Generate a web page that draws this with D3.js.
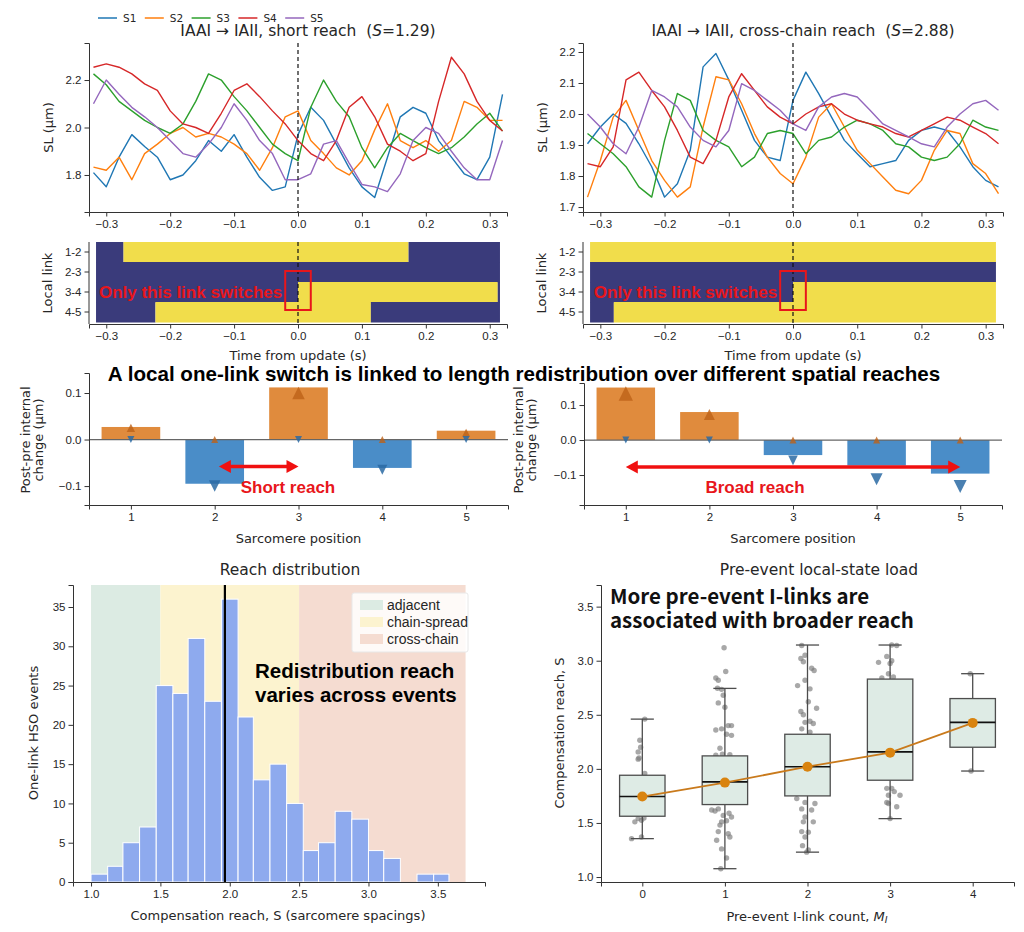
<!DOCTYPE html>
<html>
<head>
<meta charset="utf-8">
<script src="https://cdn.jsdelivr.net/npm/d3@7"></script>
<style>
  body { margin: 0; background: #fff; }
  svg { display: block; font-family: "DejaVu Sans", sans-serif; }
</style>
</head>
<body>
<svg id="fig" width="1024" height="932"></svg>
<script>
// ---------- data ----------
const seriesNames = ["S1", "S2", "S3", "S4", "S5"];
const timeS = [-0.32,-0.30,-0.28,-0.26,-0.24,-0.22,-0.20,-0.18,-0.16,-0.14,-0.12,-0.10,-0.08,-0.06,-0.04,-0.02,
  0.00,0.02,0.04,0.06,0.08,0.10,0.12,0.14,0.16,0.18,0.20,0.22,0.24,0.26,0.28,0.30,0.32];

// short reach event (S = 1.29), sarcomere lengths in µm
const shortS1 = [1.81,1.75,1.875,1.97,1.92,1.875,1.78,1.80,1.86,1.945,1.90,1.97,1.875,1.79,1.735,1.75,1.97,2.085,2.03,1.93,1.83,1.75,1.705,1.875,2.045,2.085,2.06,1.945,1.875,1.805,1.78,1.875,2.14];
const shortS2 = [1.833,1.82,1.875,1.78,1.89,1.93,1.975,2.0,1.96,1.975,1.96,1.93,1.89,1.82,1.915,2.045,2.07,1.945,1.89,1.83,1.80,1.86,1.99,2.10,1.945,1.915,1.945,1.90,1.945,2.11,2.085,2.03,2.03];
const shortS3 = [2.226,2.18,2.11,2.07,2.03,2.0,1.975,2.015,2.11,2.226,2.20,2.13,2.07,2.0,1.93,1.89,1.86,2.085,2.20,2.11,2.045,1.915,1.83,1.915,1.975,1.945,1.915,1.89,1.915,1.96,2.015,2.06,1.985];
const shortS4 = [2.254,2.268,2.254,2.226,2.184,2.156,2.07,2.015,2.0,1.975,2.06,2.156,2.184,2.13,2.07,2.015,1.945,1.89,1.86,1.945,2.085,2.13,2.045,1.93,1.90,1.86,1.89,2.11,2.296,2.226,2.11,2.03,1.985];
const shortS5 = [2.10,2.20,2.14,2.085,2.045,2.0,1.945,1.89,1.875,1.93,2.0,2.10,2.03,1.945,1.89,1.78,1.78,1.805,1.93,1.945,1.85,1.76,1.75,1.73,1.805,1.945,2.0,1.975,1.90,1.83,1.78,1.78,1.945];

// cross-chain event (S = 2.88)
const crossS1 = [1.904,1.958,2.0,1.97,1.904,1.83,1.732,1.775,1.883,2.152,2.195,2.11,2.012,1.915,1.861,1.85,2.044,2.135,2.066,1.99,1.915,1.872,1.83,1.84,1.85,1.915,1.947,1.958,1.947,1.894,1.83,1.786,1.765];
const crossS2 = [1.732,1.85,1.99,2.044,1.947,1.85,1.786,1.732,1.765,1.958,2.12,2.11,2.033,1.937,1.861,1.808,1.775,1.861,1.99,2.033,1.958,1.883,1.84,1.797,1.754,1.743,1.786,1.883,1.947,1.937,1.84,1.808,1.743];
const crossS3 = [1.937,1.904,1.872,1.83,1.765,1.732,1.915,2.066,2.044,1.947,1.915,1.894,1.83,1.861,1.937,1.947,1.937,1.872,1.915,1.926,1.958,1.98,1.968,1.947,1.904,1.894,1.861,1.85,1.861,1.904,1.98,1.958,1.947];
const crossS4 = [1.84,1.83,1.894,2.11,2.135,2.076,2.023,1.947,1.861,1.84,1.915,2.055,2.13,2.076,2.023,1.99,1.968,2.0,2.023,2.033,2.0,1.98,1.968,1.958,1.937,1.926,1.947,1.968,1.99,1.98,1.958,1.937,1.904];
const crossS5 = [2.0,1.958,1.904,1.872,1.958,2.076,2.055,2.023,1.958,1.915,1.894,1.947,2.098,2.076,2.044,2.012,1.968,1.947,2.023,2.055,2.066,2.055,2.012,1.968,1.947,1.926,1.904,1.894,1.958,2.0,2.033,2.044,2.012];

// local link states: [from, to, state] (1 = yellow / engaged)
const linkNames = ["1-2", "2-3", "3-4", "4-5"];
const shortLinkStates = [
  [[-0.316, -0.273, 0], [-0.273, 0.173, 1], [0.173, 0.316, 0]],
  [[-0.316, 0.316, 0]],
  [[-0.316, 0, 0], [0, 0.3125, 1], [0.3125, 0.316, 0]],
  [[-0.316, -0.223, 0], [-0.223, 0.114, 1], [0.114, 0.316, 0]]
];
const crossLinkStates = [
  [[-0.316, 0.316, 1]],
  [[-0.316, 0.316, 0]],
  [[-0.316, 0, 0], [0, 0.316, 1]],
  [[-0.316, -0.279, 0], [-0.279, 0.316, 1]]
];

// post-pre internal change (µm)
const sarcPos = [1, 2, 3, 4, 5];
const shortBars = [0.027, -0.095, 0.112, -0.061, 0.019];
const shortUp = [0.025, 0, 0.1, 0, 0.015];
const shortDown = [0, -0.1, 0, -0.065, 0];
const crossBars = [0.15, 0.08, -0.043, -0.073, -0.096];
const crossUp = [0.133, 0.073, 0, 0, 0];
const crossDown = [0, 0, -0.058, -0.112, -0.133];

// reach histogram
const histEdges = [1.00,1.12,1.23,1.35,1.47,1.59,1.70,1.82,1.94,2.06,2.17,2.29,2.41,2.53,2.64,2.76,2.88,3.00,3.11,3.23,3.35,3.47,3.58];
const histCounts = [1,2,5,7,25,24,31,23,36,21,13,15,10,4,5,9,8,4,3,0,1,1];
const bandNames = ["adjacent", "chain-spread", "cross-chain"];
const bandFrom = [1.0, 1.5, 2.5];
const bandTo = [1.5, 2.5, 3.7];
const medianReach = 1.965;

// reach vs pre-event I-link count
const linkCounts = [0, 1, 2, 3, 4];
const boxLow = [1.355, 1.077, 1.23, 1.54, 1.98];
const boxQ1 = [1.562, 1.67, 1.75, 1.895, 2.20];
const boxMed = [1.744, 1.88, 2.02, 2.157, 2.43];
const boxQ3 = [1.941, 2.12, 2.32, 2.83, 2.65];
const boxHigh = [2.46, 2.744, 3.145, 3.145, 2.88];
const boxMean = [1.744, 1.873, 2.02, 2.15, 2.425];
// strip points: [jitter, S]
const strip0 = [[0.03,2.46],[-0.03,2.265],[-0.02,2.20],[-0.05,2.157],[-0.04,2.10],[-0.05,2.09],[0.03,1.957],[0.05,1.8],[-0.06,1.7],[0.1,1.62],
  [-0.05,1.54],[-0.01,1.525],[-0.09,1.51],[0.02,1.545],[-0.13,1.355],[-0.01,1.37]];
const strip1 = [[-0.01,3.12],[0.01,2.90],[-0.11,2.84],[-0.08,2.82],[-0.09,2.745],[-0.04,2.735],[-0.02,2.68],[-0.08,2.61],[0,2.57],[-0.11,2.36],
  [-0.04,2.37],[0.04,2.40],[0.08,2.40],[0.02,2.32],[0.08,2.31],[-0.06,2.19],[-0.03,2.135],[-0.11,2.127],[0.06,2.13],[-0.16,1.62],
  [-0.12,1.61],[-0.08,1.63],[0.05,1.59],[-0.02,1.57],[0.02,1.52],[-0.04,1.51],[-0.06,1.48],[0.08,1.555],[-0.08,1.42],[0.04,1.40],
  [0.06,1.37],[-0.1,1.34],[-0.04,1.26],[0.02,1.176],[-0.05,1.077]];
const strip2 = [[-0.07,3.14],[-0.03,3.05],[-0.08,3.02],[-0.05,2.99],[0.05,2.93],[0.08,2.91],[-0.03,2.82],[0.03,2.74],[-0.12,2.77],[0.01,2.62],
  [-0.08,2.53],[-0.05,2.50],[0.11,2.56],[-0.03,2.43],[0.03,2.44],[0.07,2.42],[-0.07,2.37],[0.03,2.34],[-0.13,1.725],[-0.03,1.69],
  [0.09,1.68],[-0.07,1.63],[0.05,1.62],[-0.03,1.555],[0.07,1.51],[-0.05,1.51],[-0.07,1.42],[0.01,1.415],[-0.03,1.37],[-0.06,1.29],
  [0.01,1.25],[-0.01,1.23]];
const strip3 = [[0.02,3.145],[0.08,3.14],[-0.04,3.04],[-0.14,2.985],[0,2.975],[0.02,3.0],[-0.02,2.88],[-0.1,2.84],[0.04,2.85],[-0.04,1.82],
  [0.02,1.82],[-0.02,1.756],[0.05,1.79],[0.12,1.756],[-0.04,1.69],[-0.02,1.68],[0.08,1.65],[0,1.54]];
const strip4 = [[-0.03,2.88],[0.05,2.3],[-0.05,2.5],[-0.02,1.98]];

// ---------- helpers ----------
const svg = d3.select("#fig");
const INK = "#262626";
const TICK = 11.5, LABEL = 13, TITLE = 15.5;
const traceColors = ["#1f77b4", "#ff7f0e", "#2ca02c", "#d62728", "#9467bd"];
const fmt1 = d3.format(".1f");

function styleAxis(g) {
  g.selectAll(".domain").attr("stroke", "#333").attr("stroke-width", 1);
  g.selectAll(".tick line").attr("stroke", "#333");
  g.selectAll(".tick text").attr("font-size", TICK + "px").attr("fill", INK);
}
function bottomAxis(scale, y0, ticks, fmt) {
  const g = svg.append("g").attr("transform", `translate(0,${y0})`)
    .call(d3.axisBottom(scale).tickValues(ticks).tickFormat(fmt).tickSizeOuter(0).tickSize(4.5).tickPadding(3));
  styleAxis(g);
  return g;
}
function leftAxis(scale, x0, ticks, fmt) {
  const g = svg.append("g").attr("transform", `translate(${x0},0)`)
    .call(d3.axisLeft(scale).tickValues(ticks).tickFormat(fmt).tickSizeOuter(0).tickSize(4.5).tickPadding(3));
  styleAxis(g);
  return g;
}
function text(x, y, str, size, opts = {}) {
  const t = svg.append("text").attr("x", x).attr("y", y)
    .attr("font-size", size + "px")
    .attr("fill", opts.fill || INK)
    .attr("text-anchor", opts.anchor || "middle")
    .attr("dominant-baseline", "central")
    .text(str);
  if (opts.family) t.attr("font-family", opts.family);
  if (opts.bold) t.attr("font-weight", "bold");
  if (opts.rotate) t.attr("transform", `rotate(-90,${x},${y})`);
  return t;
}
// two stacked lines kept in one text element
function text2(x, y, lines, size, gap, opts = {}) {
  const t = text(x, y, null, size, opts);
  lines.forEach((ln, i) => {
    t.append("tspan").attr("x", x).attr("dy", i === 0 ? 0 : gap).text(ln);
  });
  return t;
}
const ARIAL = "'Liberation Sans', Arial, sans-serif";

// ---------- SL traces ----------
function tracePanel(x, y, series, yTicks, titleMain, sVal, titleX) {
  const [yb, yt] = y.range();
  series.forEach((vals, i) => {
    svg.append("path").datum(vals)
      .attr("fill", "none").attr("stroke", traceColors[i]).attr("stroke-width", 1.4)
      .attr("stroke-linejoin", "round")
      .attr("d", d3.line().x((d, j) => x(timeS[j])).y(d => y(d)));
  });
  svg.append("line").attr("x1", x(0)).attr("x2", x(0)).attr("y1", yt).attr("y2", yb)
    .attr("stroke", "#111").attr("stroke-width", 1.2).attr("stroke-dasharray", "4,3");
  bottomAxis(x, yb, [-0.3, -0.2, -0.1, 0, 0.1, 0.2, 0.3], fmt1);
  leftAxis(y, x.range()[0], yTicks, fmt1);
  text(x.range()[0] - 41, (yt + yb) / 2, "SL (µm)", LABEL, { rotate: true });
  const t = svg.append("text").attr("x", titleX).attr("y", 31).attr("text-anchor", "middle")
    .attr("dominant-baseline", "central").attr("font-size", TITLE + "px").attr("fill", INK)
    .attr("xml:space", "preserve");
  t.append("tspan").text(titleMain + "  (");
  t.append("tspan").attr("font-style", "italic").text("S");
  t.append("tspan").text("=" + sVal + ")");
}

const xShort = d3.scaleLinear().domain([-0.327, 0.327]).range([89, 507]);
const xCross = d3.scaleLinear().domain([-0.327, 0.327]).range([583, 1003]);
const ySLshort = d3.scaleLinear().domain([1.644, 2.356]).range([212, 43]);
const ySLcross = d3.scaleLinear().domain([1.684, 2.229]).range([212, 43]);

tracePanel(xShort, ySLshort, [shortS1, shortS2, shortS3, shortS4, shortS5], [1.8, 2.0, 2.2],
  "IAAI → IAII, short reach", "1.29", 308);
tracePanel(xCross, ySLcross, [crossS1, crossS2, crossS3, crossS4, crossS5], [1.7, 1.8, 1.9, 2.0, 2.1, 2.2],
  "IAAI → IAII, cross-chain reach", "2.88", 803);

// legend across the top
seriesNames.forEach((name, i) => {
  const lx = 98 + i * 46.8;
  svg.append("line").attr("x1", lx).attr("x2", lx + 19).attr("y1", 18).attr("y2", 18)
    .attr("stroke", traceColors[i]).attr("stroke-width", 1.5);
  text(lx + 25, 18, name, 10.5, { anchor: "start" });
});

// ---------- link state heatmaps ----------
const NAVY = "#3a3b7b", YELLOW = "#f1dd4b";
function linkPanel(x, states) {
  const rows = d3.scaleBand().domain(linkNames).range([242, 322]);
  const rowIdx = d3.scaleLinear().domain([0, 3]).range([252, 312]);
  states.forEach((segs, r) => {
    segs.forEach(s => {
      svg.append("rect").attr("x", x(s[0])).attr("y", rows(linkNames[r]))
        .attr("width", x(s[1]) - x(s[0])).attr("height", rows.bandwidth() + 0.5)
        .attr("fill", s[2] ? YELLOW : NAVY);
    });
  });
  svg.append("line").attr("x1", x(0)).attr("x2", x(0)).attr("y1", 242).attr("y2", 323)
    .attr("stroke", "#111").attr("stroke-width", 1.2).attr("stroke-dasharray", "4,3");
  svg.append("rect").attr("x", x(-0.02)).attr("y", rowIdx(0.95))
    .attr("width", x(0.02) - x(-0.02)).attr("height", rowIdx(2.9) - rowIdx(0.95))
    .attr("fill", "none").attr("stroke", "#e8161b").attr("stroke-width", 2);
  text(x(-0.02) - 3, rowIdx(2), "Only this link switches", 17,
    { anchor: "end", fill: "#e8161b", bold: true, family: ARIAL });
  bottomAxis(x, 324, [-0.3, -0.2, -0.1, 0, 0.1, 0.2, 0.3], fmt1);
  const la = svg.append("g").attr("transform", `translate(${x.range()[0]},0)`)
    .call(d3.axisLeft(rows).tickSizeOuter(0).tickSize(4.5).tickPadding(3));
  la.select(".domain").attr("d", `M0,242V324`);
  styleAxis(la);
  text(x.range()[0] - 42, 283, "Local link", LABEL, { rotate: true });
  text(x(0), 355, "Time from update (s)", LABEL);
}
linkPanel(xShort, shortLinkStates);
linkPanel(xCross, crossLinkStates);

// ---------- central headline ----------
text(524, 373, "A local one-link switch is linked to length redistribution over different spatial reaches", 20.6,
  { bold: true, family: ARIAL, fill: "#000" });

// ---------- post-pre bars ----------
const BAR_POS = "#e08b3d", BAR_NEG = "#4a8dc8";
function triPath(cx, cy, w, up) {
  const h = w / 2;
  return up
    ? `M${cx},${cy - h}L${cx + h},${cy + h}L${cx - h},${cy + h}Z`
    : `M${cx},${cy + h}L${cx + h},${cy - h}L${cx - h},${cy - h}Z`;
}
function arrow(x1, x2, yy) {
  const head = 12, half = 6.5;
  svg.append("line").attr("x1", x1 + head - 1).attr("x2", x2 - head + 1).attr("y1", yy).attr("y2", yy)
    .attr("stroke", "#f01010").attr("stroke-width", 3.5);
  svg.append("path").attr("d", `M${x1},${yy}L${x1 + head},${yy - half}L${x1 + head},${yy + half}Z`).attr("fill", "#f01010");
  svg.append("path").attr("d", `M${x2},${yy}L${x2 - head},${yy - half}L${x2 - head},${yy + half}Z`).attr("fill", "#f01010");
}
function barPanel(x, y, bars, up, down, arrowFrom, arrowTo, arrowY, note, noteX, ylx) {
  const w = x(0.35) - x(0);
  bars.forEach((v, i) => {
    svg.append("rect").attr("x", x(sarcPos[i]) - w).attr("width", 2 * w)
      .attr("y", y(Math.max(v, 0))).attr("height", Math.abs(y(v) - y(0)))
      .attr("fill", v >= 0 ? BAR_POS : BAR_NEG);
  });
  svg.append("line").attr("x1", x.range()[0]).attr("x2", x.range()[1]).attr("y1", y(0)).attr("y2", y(0))
    .attr("stroke", "#666").attr("stroke-width", 1.2);
  up.forEach((v, i) => {
    svg.append("path").attr("d", triPath(x(sarcPos[i]), y(v), 7 + 55 * Math.abs(v), true))
      .attr("fill", "#bd6118").attr("fill-opacity", 0.8);
  });
  down.forEach((v, i) => {
    svg.append("path").attr("d", triPath(x(sarcPos[i]), y(v), 7 + 45 * Math.abs(v), false))
      .attr("fill", "#2a6aa3").attr("fill-opacity", 0.85);
  });
  arrow(x(arrowFrom), x(arrowTo), y(arrowY));
  text(noteX, 487, note, 17, { bold: true, fill: "#e8161b", family: ARIAL });
  bottomAxis(x, 505, sarcPos, d3.format("d"));
  leftAxis(y, x.range()[0], [-0.1, 0, 0.1], fmt1);
  // rotated two-line label; first line sits left of the second
  text2(ylx, 440, ["Post-pre internal", "change (µm)"], LABEL, 13, { rotate: true });
  text(x(3), 538, "Sarcomere position", LABEL);
}
const xBarL = d3.scaleLinear().domain([0.5, 5.5]).range([89, 508]);
const yBarL = d3.scaleLinear().domain([-0.1407, 0.143]).range([505, 373]);
const xBarR = d3.scaleLinear().domain([0.5, 5.5]).range([584, 1002]);
const yBarR = d3.scaleLinear().domain([-0.1857, 0.163]).range([505, 383]);
barPanel(xBarL, yBarL, shortBars, shortUp, shortDown, 2.05, 3.0, -0.058, "Short reach", 288, 25);
barPanel(xBarR, yBarR, crossBars, crossUp, crossDown, 1.0, 5.0, -0.077, "Broad reach", 755, 518);

// ---------- reach histogram ----------
const xH = d3.scaleLinear().domain([0.87, 3.84]).range([73, 485]);
const yH = d3.scaleLinear().domain([0, 37.8]).range([882, 585]);
const bandColors = ["#dcebe3", "#fcf3cf", "#f5dcd1"];
bandNames.forEach((n, i) => {
  svg.append("rect").attr("x", xH(bandFrom[i])).attr("width", xH(bandTo[i]) - xH(bandFrom[i]))
    .attr("y", yH.range()[1]).attr("height", yH.range()[0] - yH.range()[1]).attr("fill", bandColors[i]);
});
histCounts.forEach((c, i) => {
  if (c === 0) return;
  svg.append("rect").attr("x", xH(histEdges[i])).attr("width", xH(histEdges[i + 1]) - xH(histEdges[i]))
    .attr("y", yH(c)).attr("height", yH(0) - yH(c))
    .attr("fill", "#8eaaee").attr("stroke", "#fff").attr("stroke-width", 1);
});
svg.append("line").attr("x1", xH(medianReach)).attr("x2", xH(medianReach))
  .attr("y1", yH.range()[1]).attr("y2", yH.range()[0]).attr("stroke", "#000").attr("stroke-width", 2.2);
bottomAxis(xH, 882, [1.0, 1.5, 2.0, 2.5, 3.0, 3.5], fmt1);
leftAxis(yH, 73, [0, 5, 10, 15, 20, 25, 30, 35], d3.format("d"));
text(290, 570, "Reach distribution", TITLE);
text(33, 733, "One-link HSO events", LABEL, { rotate: true });
text(278, 915, "Compensation reach, S (sarcomere spacings)", LABEL);
// legend
svg.append("rect").attr("x", 352).attr("y", 593).attr("width", 116).attr("height", 59)
  .attr("fill", "#fff").attr("fill-opacity", 0.85).attr("stroke", "#e8e8e8").attr("rx", 2);
bandNames.forEach((n, i) => {
  const ly = 605 + i * 17;
  svg.append("rect").attr("x", 360).attr("y", ly - 5).attr("width", 23).attr("height", 10).attr("fill", bandColors[i]);
  text(387, ly, n, 14, { anchor: "start", family: ARIAL });
});
text2(255, 670, ["Redistribution reach", "varies across events"], 20.5, 24,
  { anchor: "start", bold: true, family: ARIAL, fill: "#000" });

// ---------- box plot ----------
const xB = d3.scaleLinear().domain([-0.5, 4.5]).range([601, 1014]);
const yB = d3.scaleLinear().domain([0.954, 3.70]).range([882, 585]);
[strip0, strip1, strip2, strip3, strip4].forEach((pts, g) => {
  pts.forEach(p => {
    svg.append("circle").attr("cx", xB(linkCounts[g] + p[0])).attr("cy", yB(p[1])).attr("r", 2.7)
      .attr("fill", "#7a7a7a").attr("fill-opacity", 0.65);
  });
});
const bw = 0.275, cw = 0.14, EDGE = "#4d4d4d";
linkCounts.forEach((m, i) => {
  const cx = xB(m);
  const seg = (x1, y1, x2, y2, col, wdt) => svg.append("line").attr("x1", x1).attr("y1", y1)
    .attr("x2", x2).attr("y2", y2).attr("stroke", col).attr("stroke-width", wdt);
  seg(cx, yB(boxLow[i]), cx, yB(boxQ1[i]), EDGE, 1.3);
  seg(cx, yB(boxQ3[i]), cx, yB(boxHigh[i]), EDGE, 1.3);
  seg(xB(m - cw), yB(boxLow[i]), xB(m + cw), yB(boxLow[i]), EDGE, 1.3);
  seg(xB(m - cw), yB(boxHigh[i]), xB(m + cw), yB(boxHigh[i]), EDGE, 1.3);
  svg.append("rect").attr("x", xB(m - bw)).attr("width", xB(m + bw) - xB(m - bw))
    .attr("y", yB(boxQ3[i])).attr("height", yB(boxQ1[i]) - yB(boxQ3[i]))
    .attr("fill", "#deebe5").attr("stroke", EDGE).attr("stroke-width", 1.3);
  seg(xB(m - bw), yB(boxMed[i]), xB(m + bw), yB(boxMed[i]), "#111", 1.6);
});
svg.append("path").datum(boxMean).attr("fill", "none").attr("stroke", "#c97a1c").attr("stroke-width", 1.8)
  .attr("d", d3.line().x((d, i) => xB(linkCounts[i])).y(d => yB(d)));
boxMean.forEach((v, i) => {
  svg.append("circle").attr("cx", xB(linkCounts[i])).attr("cy", yB(v)).attr("r", 5).attr("fill", "#d9830f");
});
bottomAxis(xB, 882, linkCounts, d3.format("d"));
leftAxis(yB, 601, [1.0, 1.5, 2.0, 2.5, 3.0, 3.5], fmt1);
text(819, 570, "Pre-event local-state load", TITLE);
text(559, 733, "Compensation reach, S", LABEL, { rotate: true });
const xl = svg.append("text").attr("x", 807).attr("y", 916).attr("text-anchor", "middle")
  .attr("dominant-baseline", "central").attr("font-size", LABEL + "px").attr("fill", INK);
xl.append("tspan").text("Pre-event I-link count, ");
xl.append("tspan").attr("font-style", "italic").text("M");
xl.append("tspan").attr("font-style", "italic").attr("font-size", "9.5px").attr("dy", 3).text("I");
const CJK = "'Noto Sans CJK JP', 'Noto Sans', sans-serif";
text2(610, 595, ["More pre-event I-links are", "associated with broader reach"], 20.5, 24,
  { anchor: "start", bold: true, family: CJK, fill: "#111" });
</script>
</body>
</html>
